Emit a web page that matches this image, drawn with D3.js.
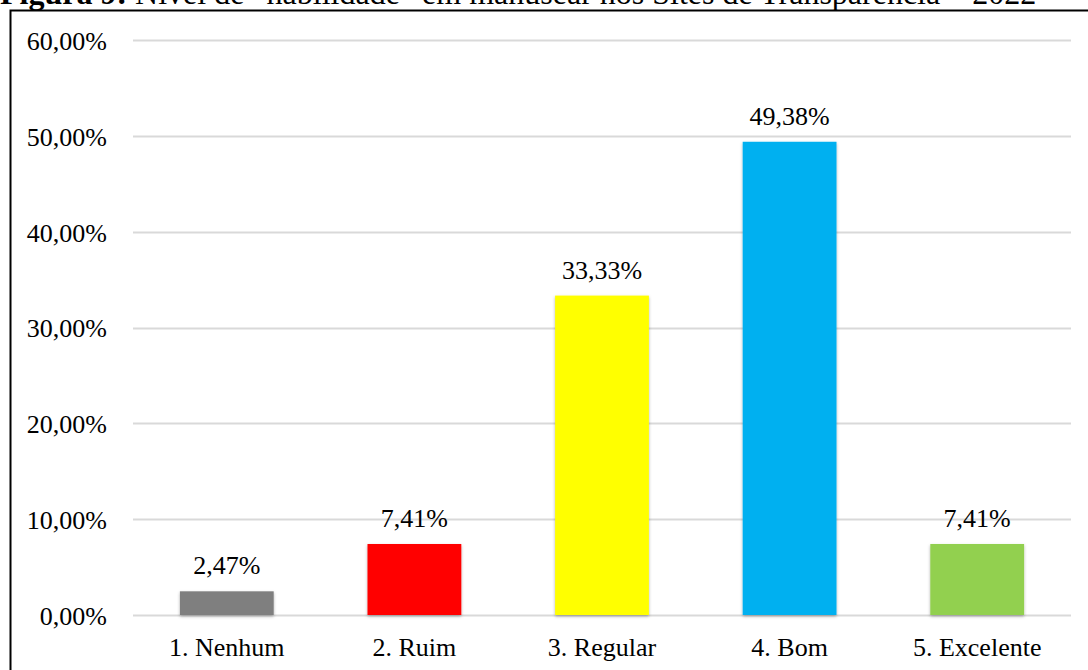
<!DOCTYPE html>
<html>
<head>
<meta charset="utf-8">
<script src="https://cdn.jsdelivr.net/npm/d3@7"></script>
<style>
  html, body { margin: 0; padding: 0; background: #fff; }
  svg { display: block; }
  svg text { font-family: "Liberation Serif", "Times New Roman", serif; fill: #000; }
</style>
</head>
<body>
<svg id="chart" width="1088" height="670"></svg>
<script>
// Nível de "habilidade" em manusear os Sites de Transparência – 2022
const categories = ["1. Nenhum", "2. Ruim", "3. Regular", "4. Bom", "5. Excelente"];
const values = [2.47, 7.41, 33.33, 49.38, 7.41];
const colors = ["#7f7f7f", "#ff0000", "#ffff00", "#00b0f0", "#92d050"];
const yTicks = [0, 10, 20, 30, 40, 50, 60];

const svg = d3.select("#chart");
const plot = { left: 133, right: 1071, top: 40, bottom: 615 };
const fontSize = 26;

const fmt = v => v.toFixed(2).replace(".", ",") + "%";

const x = d3.scaleBand().domain(categories).range([plot.left, plot.right]).paddingInner(0.5).paddingOuter(0.25);
const y = d3.scaleLinear().domain([0, 60]).range([plot.bottom, plot.top]);

// soft drop shadow under the bars
const defs = svg.append("defs");
const f = defs.append("filter").attr("id", "shadow").attr("x", "-10%").attr("y", "-10%").attr("width", "130%").attr("height", "130%");
f.append("feDropShadow").attr("dx", 0).attr("dy", 1.5).attr("stdDeviation", 1.5).attr("flood-color", "#000").attr("flood-opacity", 0.3);

// title, partly above the frame
const title = svg.append("text").attr("x", 0).attr("y", 3.5).style("font-size", "32px");
title.append("tspan").style("font-weight", "bold").text("Figura 9:");
title.append("tspan").text(" Nível de \u201Chabilidade\u201D em manusear nos Sites de Transparência \u2013 2022");

// outer frame
svg.append("rect").attr("x", 10.5).attr("y", 10.5).attr("width", 1100).attr("height", 700)
  .attr("fill", "none").attr("stroke", "#000").attr("stroke-width", 2);

// gridlines
svg.append("g").selectAll("line").data(yTicks).join("line")
  .attr("x1", plot.left).attr("x2", plot.right)
  .attr("y1", d => Math.round(y(d)) + 0.5).attr("y2", d => Math.round(y(d)) + 0.5)
  .attr("stroke", "#d9d9d9").attr("stroke-width", 2);

// y axis labels
const yAxis = d3.axisLeft(y).tickValues(yTicks).tickFormat(fmt).tickSize(0).tickPadding(0);
const gy = svg.append("g").attr("transform", "translate(107,0)").call(yAxis);
gy.select(".domain").remove();
gy.selectAll("text").style("font-size", fontSize + "px").attr("dy", "0.36em");

// bars
svg.append("g").selectAll("rect").data(values).join("rect")
  .attr("x", (d, i) => x(categories[i]))
  .attr("width", x.bandwidth())
  .attr("y", d => y(d))
  .attr("height", d => y(0) - y(d))
  .attr("fill", (d, i) => colors[i])
  .attr("filter", "url(#shadow)");

// value labels
svg.append("g").selectAll("text").data(values).join("text")
  .attr("x", (d, i) => x(categories[i]) + x.bandwidth() / 2)
  .attr("y", d => y(d) - 17)
  .attr("text-anchor", "middle").style("font-size", fontSize + "px")
  .text(fmt);

// category axis
const xAxis = d3.axisBottom(x).tickSize(0).tickPadding(0);
const gx = svg.append("g").attr("transform", `translate(0,${plot.bottom})`).call(xAxis);
gx.select(".domain").remove();
gx.selectAll("text").style("font-size", fontSize + "px").attr("y", 0).attr("dy", 41);
</script>
</body>
</html>
